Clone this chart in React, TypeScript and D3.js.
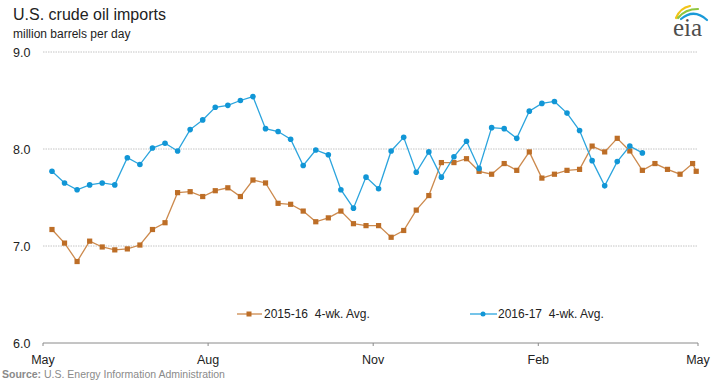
import { line, scaleLinear, scaleTime, timeDay, timeFormat, range } from "d3";

// weekly 4-week averages, aligned by week starting early May
const weekStart = new Date(2016, 4, 6);
const weeks = range(52).map((i) => timeDay.offset(weekStart, 7 * i));
const lastWeek = new Date(2017, 3, 30);

const series1516 = [
  7.17, 7.03, 6.84, 7.05, 6.99, 6.96, 6.97, 7.01, 7.17, 7.24, 7.55, 7.56, 7.51,
  7.57, 7.6, 7.51, 7.68, 7.65, 7.44, 7.43, 7.36, 7.25, 7.29, 7.36, 7.23, 7.21,
  7.21, 7.09, 7.16, 7.37, 7.52, 7.86, 7.86, 7.9, 7.77, 7.74, 7.85, 7.78, 7.97,
  7.7, 7.74, 7.78, 7.79, 8.03, 7.97, 8.11, 7.98, 7.78, 7.85, 7.79, 7.74, 7.85,
  7.77,
];

const series1617 = [
  7.77, 7.65, 7.58, 7.63, 7.65, 7.63, 7.91, 7.84, 8.01, 8.06, 7.98, 8.2, 8.3,
  8.43, 8.45, 8.5, 8.54, 8.21, 8.18, 8.1, 7.83, 7.99, 7.94, 7.58, 7.39, 7.71,
  7.59, 7.98, 8.12, 7.76, 7.97, 7.71, 7.92, 8.08, 7.8, 8.22, 8.21, 8.11, 8.39,
  8.47, 8.49, 8.37, 8.19, 7.88, 7.62, 7.87, 8.03, 7.96,
];

const yTicks = [6, 7, 8, 9];
const xTicks = [
  new Date(2016, 4, 1),
  new Date(2016, 7, 1),
  new Date(2016, 10, 1),
  new Date(2017, 1, 1),
  new Date(2017, 4, 1),
];

type Pt = { date: Date; value: number };

const FONT = "'Liberation Sans', Arial, sans-serif";
const ORANGE_LINE = "#cc8a4e";
const ORANGE = "#bd6e27";
const BLUE_LINE = "#2ba4dd";
const BLUE = "#1196d6";

export default function App() {
  const width = 718;
  const height = 384;

  const x = scaleTime()
    .domain([xTicks[0], xTicks[xTicks.length - 1]])
    .range([43, 698]);
  const y = scaleLinear().domain([6, 9]).range([343, 52]);

  const dates1516 = [...weeks, lastWeek];
  const pts1516: Pt[] = series1516.map((value, i) => ({ date: dates1516[i], value }));
  const pts1617: Pt[] = series1617.map((value, i) => ({ date: weeks[i], value }));

  const lineGen = line<Pt>()
    .x((d) => x(d.date))
    .y((d) => y(d.value));

  const fmt = timeFormat("%b");

  return (
    <svg
      width={width}
      height={height}
      style={{ position: "absolute", left: 0, top: 0, background: "#fff" }}
      fontFamily={FONT}
    >
      <text x={13} y={20} fontSize={16} fill="#222">
        U.S. crude oil imports
      </text>
      <text x={13} y={38} fontSize={12} fill="#222">
        million barrels per day
      </text>

      {/* eia logo */}
      <g fill="none" strokeLinecap="round">
        <path d="M676,18 Q680,8 690,6" stroke="#f2c418" strokeWidth={2.2} />
        <path d="M678,18 Q685,9 698,9" stroke="#8dc641" strokeWidth={2.2} />
        <path d="M681,19 Q694,8 707,20" stroke="#1a9ad8" strokeWidth={2.2} />
      </g>
      <text x={673} y={36} fontSize={25} fontFamily="'Liberation Serif', serif" fill="#4d4d4d">
        eia
      </text>

      {yTicks.map((t) => (
        <g key={t}>
          {t > 6 && (
            <line
              x1={43}
              x2={698}
              y1={y(t)}
              y2={y(t)}
              stroke="#c4c4c4"
              strokeDasharray="1.5,1"
            />
          )}
          <text x={13} y={y(t) + 4.5} fontSize={12.5} fill="#222">
            {t.toFixed(1)}
          </text>
        </g>
      ))}

      <line x1={43} x2={698} y1={y(6)} y2={y(6)} stroke="#8a8a8a" />
      {xTicks.map((d, i) => (
        <g key={i}>
          <line x1={x(d)} x2={x(d)} y1={y(6)} y2={y(6) + 3} stroke="#8a8a8a" />
          <text x={x(d)} y={364} fontSize={12.5} fill="#222" textAnchor="middle">
            {fmt(d)}
          </text>
        </g>
      ))}

      <path d={lineGen(pts1516) ?? ""} fill="none" stroke={ORANGE_LINE} strokeWidth={1.3} />
      {pts1516.map((d, i) => (
        <rect
          key={i}
          x={x(d.date) - 2.6}
          y={y(d.value) - 2.6}
          width={5.2}
          height={5.2}
          fill={ORANGE}
        />
      ))}

      <path d={lineGen(pts1617) ?? ""} fill="none" stroke={BLUE_LINE} strokeWidth={1.3} />
      {pts1617.map((d, i) => (
        <circle key={i} cx={x(d.date)} cy={y(d.value)} r={2.8} fill={BLUE} />
      ))}

      {/* legend */}
      <g>
        <line x1={237} x2={262} y1={314} y2={314} stroke={ORANGE_LINE} strokeWidth={1.3} />
        <rect x={246.5} y={311.5} width={5} height={5} fill={ORANGE} />
        <text x={264} y={318} fontSize={12} fill="#222" style={{ whiteSpace: "pre" }}>
          {"2015-16  4-wk. Avg."}
        </text>
        <line x1={470} x2={497} y1={314} y2={314} stroke={BLUE_LINE} strokeWidth={1.3} />
        <circle cx={483} cy={314} r={2.5} fill={BLUE} />
        <text x={498} y={318} fontSize={12} fill="#222" style={{ whiteSpace: "pre" }}>
          {"2016-17  4-wk. Avg."}
        </text>
      </g>

      <text x={2} y={378} fontSize={10.5} fill="#8a8a8a">
        <tspan fontWeight="bold">Source:</tspan>
        <tspan> U.S. Energy Information Administration</tspan>
      </text>
    </svg>
  );
}
